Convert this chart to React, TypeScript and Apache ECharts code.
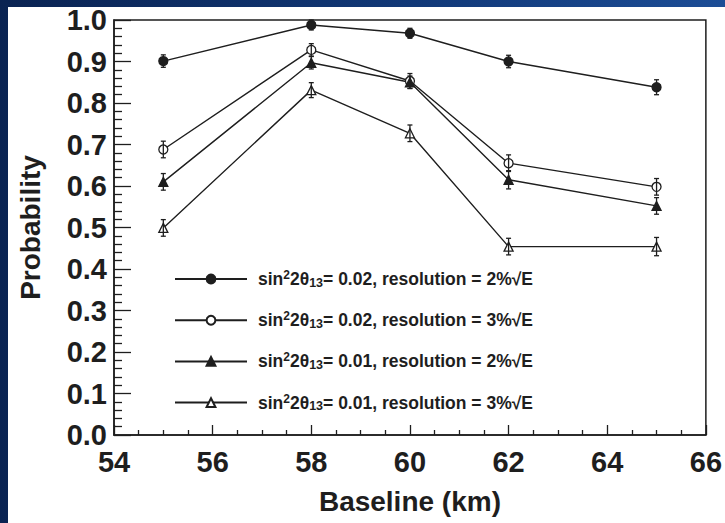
import React, { useEffect, useRef } from "react";
import * as echarts from "echarts";

const baselines = [55, 58, 60, 62, 65];
const probA = [0.901, 0.988, 0.968, 0.9, 0.838]; // 0.02, 2%
const probB = [0.688, 0.928, 0.853, 0.655, 0.598]; // 0.02, 3%
const probC = [0.61, 0.897, 0.85, 0.615, 0.552]; // 0.01, 2%
const probD = [0.499, 0.831, 0.727, 0.454, 0.454]; // 0.01, 3%
const errA = [0.015, 0.012, 0.012, 0.015, 0.018];
const errB = [0.02, 0.015, 0.018, 0.02, 0.02];
const errC = [0.02, 0.015, 0.015, 0.022, 0.02];
const errD = [0.02, 0.018, 0.02, 0.02, 0.022];

const seriesNames = [
  "sin²2θ13= 0.02, resolution = 2%√E",
  "sin²2θ13= 0.02, resolution = 3%√E",
  "sin²2θ13= 0.01, resolution = 2%√E",
  "sin²2θ13= 0.01, resolution = 3%√E",
];
const richLabels = [
  "{n|sin}{sup|2}{n|2θ}{sub|13}{n|= 0.02, resolution = 2%√E}",
  "{n|sin}{sup|2}{n|2θ}{sub|13}{n|= 0.02, resolution = 3%√E}",
  "{n|sin}{sup|2}{n|2θ}{sub|13}{n|= 0.01, resolution = 2%√E}",
  "{n|sin}{sup|2}{n|2θ}{sub|13}{n|= 0.01, resolution = 3%√E}",
];

const xTicks = { min: 54, max: 66, interval: 2 };
const yTicks = { min: 0, max: 1, interval: 0.1 };

const INK = "#1e1e1e";
const FONT = "Liberation Sans, Arial, sans-serif";

export default function App() {
  const ref = useRef<HTMLDivElement>(null);
  useEffect(() => {
    if (!ref.current) return;
    const chart = echarts.init(ref.current, undefined, { renderer: "svg" });
    const vals = [probA, probB, probC, probD];
    const errs = [errA, errB, errC, errD];
    const styles = [
      { symbol: "circle", fill: INK },
      { symbol: "circle", fill: "#ffffff" },
      { symbol: "triangle", fill: INK },
      { symbol: "triangle", fill: "#ffffff" },
    ];
    const lineSeries = vals.map((v, i) => ({
      type: "line",
      name: seriesNames[i],
      data: baselines.map((x, j) => [x, v[j]]),
      symbol: styles[i].symbol,
      symbolSize: 9,
      lineStyle: { color: INK, width: 1.4 },
      itemStyle: { color: styles[i].fill, borderColor: INK, borderWidth: 1.3 },
      z: 3,
    }));
    const errSeries = vals.map((v, i) => ({
      type: "custom",
      name: "err" + i,
      data: baselines.map((x, j) => [x, v[j], errs[i][j]]),
      z: 4,
      renderItem: (params: any, api: any) => {
        const x = api.value(0);
        const y = api.value(1);
        const e = api.value(2);
        const t = api.coord([x, y + e]);
        const b = api.coord([x, y - e]);
        const st = { stroke: INK, lineWidth: 1.3 };
        return {
          type: "group",
          children: [
            { type: "line", shape: { x1: t[0], y1: t[1], x2: b[0], y2: b[1] }, style: st },
            { type: "line", shape: { x1: t[0] - 2.5, y1: t[1], x2: t[0] + 2.5, y2: t[1] }, style: st },
            { type: "line", shape: { x1: b[0] - 2.5, y1: b[1], x2: b[0] + 2.5, y2: b[1] }, style: st },
          ],
        };
      },
    }));

    chart.setOption({
      animation: false,
      backgroundColor: "transparent",
      textStyle: { fontFamily: FONT },
      grid: {
        left: 114,
        right: 11,
        top: 20,
        bottom: 88,
        show: true,
        borderColor: INK,
        borderWidth: 1.5,
        backgroundColor: "#ffffff",
      },
      legend: {
        data: seriesNames,
        orient: "vertical",
        left: 169,
        top: 262,
        itemWidth: 72,
        itemHeight: 11,
        itemGap: 19.2,
        selectedMode: false,
        formatter: (name: string) => richLabels[seriesNames.indexOf(name)],
        textStyle: {
          color: INK,
          fontFamily: FONT,
          fontWeight: "bold",
          fontSize: 17.5,
          padding: [0, 0, 0, 6],
          rich: {
            n: { fontSize: 17.5, fontWeight: "bold", lineHeight: 20, color: INK, fontFamily: FONT },
            sup: { fontSize: 12, fontWeight: "bold", lineHeight: 12, verticalAlign: "top", color: INK, fontFamily: FONT },
            sub: { fontSize: 12.5, fontWeight: "bold", lineHeight: 12, verticalAlign: "bottom", padding: [9, 0, 0, 0], color: INK, fontFamily: FONT },
          },
        },
      },
      xAxis: {
        type: "value",
        min: xTicks.min,
        max: xTicks.max,
        interval: xTicks.interval,
        name: "Baseline (km)",
        nameLocation: "middle",
        nameGap: 52,
        nameTextStyle: { fontSize: 28, fontWeight: "bold", color: INK, fontFamily: FONT },
        axisLine: { show: true, lineStyle: { color: INK, width: 1.5 } },
        axisTick: { show: true, inside: true, length: 10, lineStyle: { color: INK, width: 1.3 } },
        minorTick: { show: true, splitNumber: 4, length: 5, lineStyle: { color: INK, width: 1.3 } },
        splitLine: { show: false },
        axisLabel: { fontSize: 29, fontWeight: "bold", color: INK, margin: 12, fontFamily: FONT },
      },
      yAxis: {
        type: "value",
        min: yTicks.min,
        max: yTicks.max,
        interval: yTicks.interval,
        name: "Probability",
        nameLocation: "middle",
        nameGap: 70,
        nameTextStyle: { fontSize: 28, fontWeight: "bold", color: INK, fontFamily: FONT },
        axisLine: { show: true, lineStyle: { color: INK, width: 1.5 } },
        axisTick: { show: true, inside: true, length: 17, lineStyle: { color: INK, width: 1.3 } },
        minorTick: { show: true, splitNumber: 5, length: 8, lineStyle: { color: INK, width: 1.3 } },
        splitLine: { show: false },
        axisLabel: {
          fontSize: 29,
          fontWeight: "bold",
          color: INK,
          margin: 7,
          fontFamily: FONT,
          formatter: (v: number) => v.toFixed(1),
        },
      },
      series: [...lineSeries, ...errSeries],
    });
    return () => chart.dispose();
  }, []);

  return (
    <div
      style={{
        position: "fixed",
        left: 0,
        top: 0,
        width: 725,
        height: 523,
        background: "linear-gradient(to right, #0a2352 0%, #123a7a 60%, #1c4d96 100%)",
      }}
    >
      <div
        style={{
          position: "absolute",
          left: 8,
          top: 7,
          width: 717,
          height: 516,
          background: "#ffffff",
        }}
      />
      <div ref={ref} style={{ position: "absolute", left: 0, top: 0, width: 725, height: 523 }} />
    </div>
  );
}
